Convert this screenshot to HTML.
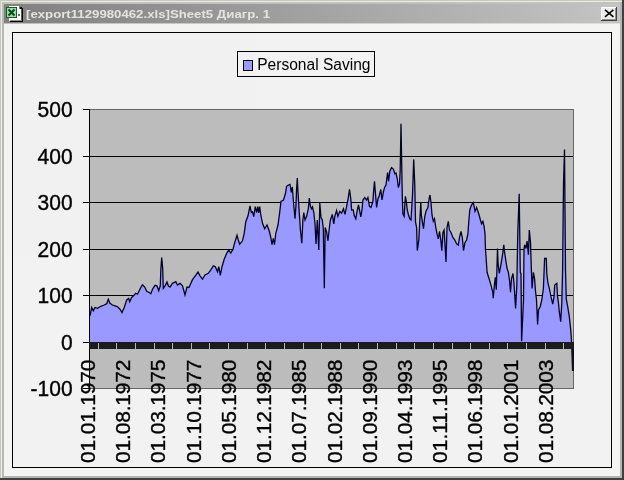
<!DOCTYPE html>
<html><head><meta charset="utf-8"><title>Chart</title>
<style>
html,body{margin:0;padding:0;background:#f0f0ee;}
body{width:624px;height:480px;overflow:hidden;}
svg{display:block;will-change:transform;opacity:0.999}
text{font-family:"Liberation Sans",Arial,sans-serif;}
</style></head><body>
<svg width="624" height="480" viewBox="0 0 624 480">
<defs>
<linearGradient id="tg" x1="0" y1="0" x2="1" y2="0"><stop offset="0" stop-color="#808080"/><stop offset="1" stop-color="#c4c4c4"/></linearGradient>
<clipPath id="pc"><rect x="90" y="109" width="484" height="280"/></clipPath>
</defs>
<g shape-rendering="crispEdges">
<!-- window frame -->
<rect x="0" y="0" width="624" height="480" fill="#f4f4f2"/>
<rect x="0" y="0" width="624" height="1" fill="#c8c8c2"/>
<rect x="0" y="0" width="1" height="480" fill="#c8c8c2"/>
<rect x="1" y="1" width="622" height="1" fill="#ecece6"/>
<rect x="1" y="1" width="1" height="478" fill="#ecece6"/>
<rect x="2" y="2" width="620" height="2" fill="#c2c2bc"/>
<rect x="2" y="2" width="2" height="476" fill="#babab4"/>
<rect x="620" y="2" width="2" height="476" fill="#b4b4b4"/>
<rect x="2" y="476" width="620" height="2" fill="#b4b4b4"/>
<rect x="622" y="0" width="2" height="480" fill="#404040"/>
<rect x="0" y="478" width="624" height="2" fill="#404040"/>
<!-- title bar -->
<rect x="4" y="4" width="616" height="19" fill="url(#tg)"/><rect x="4" y="23" width="616" height="1" fill="url(#tg)" opacity="0.45"/>
<!-- chart area -->
<rect x="12.5" y="32.5" width="599" height="435" fill="#f2f2f2" stroke="#000" stroke-width="1"/>
<!-- plot -->
<rect x="90" y="109" width="484" height="280" fill="#bcbcbc"/>

<rect x="83" y="109" width="490" height="1" fill="#000"/>
<rect x="83" y="156" width="490" height="1" fill="#000"/>
<rect x="83" y="202" width="490" height="1" fill="#000"/>
<rect x="83" y="249" width="490" height="1" fill="#000"/>
<rect x="83" y="295" width="490" height="1" fill="#000"/>
<rect x="83" y="342" width="490" height="1" fill="#000"/>
<rect x="83" y="388" width="490" height="1" fill="#000"/>
</g>
<g clip-path="url(#pc)"><path d="M90,342.5 L90.0,315.8 L91.7,307.5 L93.3,310.8 L95.0,307.5 L97.5,308.3 L100.8,306.3 L104.2,305.0 L106.7,303.7 L108.3,299.2 L110.0,303.3 L112.5,305.0 L115.0,305.8 L117.5,306.7 L120.0,309.2 L122.0,312.5 L124.2,307.5 L126.7,300.0 L128.7,298.3 L129.7,301.7 L131.7,297.5 L134.2,295.0 L135.8,293.3 L137.5,294.2 L139.2,290.8 L140.8,287.5 L142.5,284.7 L144.7,287.0 L146.7,291.3 L149.2,292.5 L150.8,293.7 L152.5,289.2 L155.0,285.3 L157.0,285.8 L158.7,290.8 L160.3,285.8 L160.8,270.0 L161.7,257.5 L162.7,268.3 L163.3,288.3 L165.0,285.8 L167.0,282.0 L168.3,285.8 L170.0,287.0 L172.5,283.3 L175.8,281.7 L177.5,285.0 L180.0,283.3 L182.5,285.8 L185.0,295.0 L187.0,287.0 L189.0,287.5 L192.5,279.7 L195.3,275.8 L198.0,272.0 L200.0,275.8 L202.5,279.2 L205.0,275.0 L208.3,273.3 L210.8,270.0 L213.3,265.8 L215.3,266.7 L217.5,271.7 L218.8,266.7 L220.3,275.3 L222.0,266.7 L224.2,259.2 L226.7,253.3 L228.7,250.0 L230.8,253.0 L233.0,249.2 L235.0,241.7 L237.0,235.3 L238.3,240.0 L239.7,244.2 L242.5,240.8 L244.2,233.3 L245.8,221.7 L248.0,215.8 L250.0,205.8 L251.3,212.5 L252.5,211.7 L253.7,216.7 L255.3,206.7 L256.7,212.5 L257.8,206.7 L258.7,213.0 L259.7,206.7 L260.8,215.0 L262.5,223.3 L264.7,228.7 L267.0,225.0 L269.2,230.8 L270.8,237.5 L272.0,244.7 L273.3,238.3 L274.5,244.7 L275.8,233.3 L278.0,225.0 L279.8,211.3 L281.0,201.3 L283.5,200.0 L285.4,193.8 L286.6,186.3 L288.5,185.0 L290.0,184.4 L291.3,192.5 L292.3,186.9 L293.5,202.5 L295.0,218.8 L296.0,205.0 L296.6,188.8 L297.3,178.1 L298.0,192.5 L299.1,210.0 L300.4,230.0 L301.8,243.3 L302.9,220.0 L303.8,212.5 L305.0,220.0 L306.6,216.3 L308.3,208.8 L309.3,198.1 L310.4,206.3 L311.6,208.8 L312.5,206.9 L313.8,212.5 L315.0,223.8 L316.0,244.0 L317.3,220.0 L318.8,250.0 L319.8,203.1 L321.0,217.5 L322.3,220.0 L323.3,228.8 L324.3,288.3 L325.2,227.5 L326.6,232.0 L328.0,240.8 L329.1,230.0 L330.4,220.0 L332.3,214.4 L333.8,223.8 L334.8,216.3 L336.6,210.6 L337.9,216.3 L339.8,211.3 L341.6,213.1 L343.5,208.8 L345.0,214.4 L346.6,206.3 L347.9,200.0 L349.5,189.4 L350.8,198.8 L351.6,210.0 L353.3,210.0 L354.1,215.0 L355.8,218.8 L357.3,210.0 L358.5,205.0 L359.5,210.0 L360.8,216.9 L362.0,210.0 L362.9,200.0 L364.8,197.5 L366.6,200.0 L367.9,197.5 L369.5,206.3 L371.0,207.5 L372.9,201.3 L373.8,188.8 L374.5,181.3 L375.4,192.5 L376.6,207.5 L377.9,198.8 L379.1,196.3 L380.8,189.4 L382.0,200.0 L383.5,191.3 L384.8,186.9 L386.0,185.0 L386.6,180.0 L387.6,172.5 L388.5,181.3 L389.8,171.3 L391.6,167.5 L393.5,169.4 L394.8,173.8 L396.0,173.1 L397.3,178.8 L398.3,187.5 L399.5,183.8 L400.2,170.0 L401.0,123.8 L401.8,170.0 L402.3,197.5 L402.9,213.8 L404.1,216.3 L405.4,196.3 L406.3,201.3 L407.3,210.0 L408.5,215.0 L409.8,218.8 L411.0,220.0 L412.5,195.0 L413.7,159.4 L414.8,185.0 L415.5,222.0 L416.6,227.5 L417.3,250.6 L418.8,240.0 L419.8,221.3 L420.8,202.5 L421.3,215.0 L422.3,221.3 L423.5,228.8 L424.8,216.3 L426.0,211.3 L427.9,207.5 L429.1,198.8 L430.0,195.0 L431.0,202.5 L432.0,215.0 L433.3,221.3 L434.5,218.8 L435.8,227.5 L437.0,233.8 L438.3,238.8 L439.5,231.3 L440.8,240.0 L441.8,250.6 L442.9,232.5 L444.1,230.0 L446.0,261.9 L447.0,227.5 L448.3,221.3 L449.5,230.0 L451.0,232.5 L452.9,237.5 L454.8,240.0 L456.6,243.8 L458.3,245.0 L459.5,237.5 L461.0,231.3 L462.3,237.5 L463.5,250.6 L465.0,242.5 L466.6,240.0 L467.9,233.8 L468.8,221.3 L469.8,210.0 L471.0,206.3 L472.3,203.8 L473.3,202.5 L474.1,206.3 L475.0,211.3 L476.6,207.5 L477.9,211.3 L479.1,215.0 L480.4,220.0 L481.6,223.8 L482.9,221.3 L484.1,226.3 L485.0,233.8 L485.5,250.0 L485.9,254.8 L487.1,272.3 L489.0,278.5 L490.9,284.8 L492.8,292.3 L493.2,298.2 L494.3,286.0 L495.3,277.3 L496.3,289.8 L496.9,269.8 L497.5,248.5 L498.1,263.5 L499.3,273.5 L500.9,264.8 L502.5,254.8 L503.8,244.8 L504.6,252.3 L505.9,261.0 L507.1,268.5 L508.4,272.3 L509.6,281.0 L510.5,292.3 L511.5,278.5 L513.0,273.5 L514.0,283.5 L515.6,308.5 L516.8,286.0 L517.8,232.0 L519.2,193.8 L520.3,272.3 L521.0,274.0 L521.6,341.3 L523.5,300.0 L524.0,249.8 L524.6,244.8 L525.9,248.5 L527.1,241.0 L528.4,254.8 L529.3,230.0 L530.5,242.3 L531.3,267.3 L532.1,288.5 L533.4,272.3 L534.6,278.5 L535.5,291.0 L536.5,300.0 L537.6,324.5 L538.5,310.0 L540.2,306.7 L541.8,300.0 L543.4,288.5 L544.0,273.5 L544.6,258.5 L546.3,258.5 L546.8,273.5 L548.0,283.5 L549.3,288.3 L551.0,296.7 L552.7,304.2 L554.0,297.0 L554.7,285.0 L556.8,283.3 L557.5,296.0 L558.5,303.3 L559.3,311.7 L560.7,321.6 L561.8,303.3 L562.6,270.0 L563.5,183.7 L564.5,149.5 L565.5,270.0 L566.3,299.2 L567.7,306.7 L569.3,316.7 L570.4,326.7 L571.2,336.0 L571.7,345.0 L572.6,371.0 L572.6,342.5 Z" fill="#9999ff" stroke="none"/><path d="M90.0,315.8 L91.7,307.5 L93.3,310.8 L95.0,307.5 L97.5,308.3 L100.8,306.3 L104.2,305.0 L106.7,303.7 L108.3,299.2 L110.0,303.3 L112.5,305.0 L115.0,305.8 L117.5,306.7 L120.0,309.2 L122.0,312.5 L124.2,307.5 L126.7,300.0 L128.7,298.3 L129.7,301.7 L131.7,297.5 L134.2,295.0 L135.8,293.3 L137.5,294.2 L139.2,290.8 L140.8,287.5 L142.5,284.7 L144.7,287.0 L146.7,291.3 L149.2,292.5 L150.8,293.7 L152.5,289.2 L155.0,285.3 L157.0,285.8 L158.7,290.8 L160.3,285.8 L160.8,270.0 L161.7,257.5 L162.7,268.3 L163.3,288.3 L165.0,285.8 L167.0,282.0 L168.3,285.8 L170.0,287.0 L172.5,283.3 L175.8,281.7 L177.5,285.0 L180.0,283.3 L182.5,285.8 L185.0,295.0 L187.0,287.0 L189.0,287.5 L192.5,279.7 L195.3,275.8 L198.0,272.0 L200.0,275.8 L202.5,279.2 L205.0,275.0 L208.3,273.3 L210.8,270.0 L213.3,265.8 L215.3,266.7 L217.5,271.7 L218.8,266.7 L220.3,275.3 L222.0,266.7 L224.2,259.2 L226.7,253.3 L228.7,250.0 L230.8,253.0 L233.0,249.2 L235.0,241.7 L237.0,235.3 L238.3,240.0 L239.7,244.2 L242.5,240.8 L244.2,233.3 L245.8,221.7 L248.0,215.8 L250.0,205.8 L251.3,212.5 L252.5,211.7 L253.7,216.7 L255.3,206.7 L256.7,212.5 L257.8,206.7 L258.7,213.0 L259.7,206.7 L260.8,215.0 L262.5,223.3 L264.7,228.7 L267.0,225.0 L269.2,230.8 L270.8,237.5 L272.0,244.7 L273.3,238.3 L274.5,244.7 L275.8,233.3 L278.0,225.0 L279.8,211.3 L281.0,201.3 L283.5,200.0 L285.4,193.8 L286.6,186.3 L288.5,185.0 L290.0,184.4 L291.3,192.5 L292.3,186.9 L293.5,202.5 L295.0,218.8 L296.0,205.0 L296.6,188.8 L297.3,178.1 L298.0,192.5 L299.1,210.0 L300.4,230.0 L301.8,243.3 L302.9,220.0 L303.8,212.5 L305.0,220.0 L306.6,216.3 L308.3,208.8 L309.3,198.1 L310.4,206.3 L311.6,208.8 L312.5,206.9 L313.8,212.5 L315.0,223.8 L316.0,244.0 L317.3,220.0 L318.8,250.0 L319.8,203.1 L321.0,217.5 L322.3,220.0 L323.3,228.8 L324.3,288.3 L325.2,227.5 L326.6,232.0 L328.0,240.8 L329.1,230.0 L330.4,220.0 L332.3,214.4 L333.8,223.8 L334.8,216.3 L336.6,210.6 L337.9,216.3 L339.8,211.3 L341.6,213.1 L343.5,208.8 L345.0,214.4 L346.6,206.3 L347.9,200.0 L349.5,189.4 L350.8,198.8 L351.6,210.0 L353.3,210.0 L354.1,215.0 L355.8,218.8 L357.3,210.0 L358.5,205.0 L359.5,210.0 L360.8,216.9 L362.0,210.0 L362.9,200.0 L364.8,197.5 L366.6,200.0 L367.9,197.5 L369.5,206.3 L371.0,207.5 L372.9,201.3 L373.8,188.8 L374.5,181.3 L375.4,192.5 L376.6,207.5 L377.9,198.8 L379.1,196.3 L380.8,189.4 L382.0,200.0 L383.5,191.3 L384.8,186.9 L386.0,185.0 L386.6,180.0 L387.6,172.5 L388.5,181.3 L389.8,171.3 L391.6,167.5 L393.5,169.4 L394.8,173.8 L396.0,173.1 L397.3,178.8 L398.3,187.5 L399.5,183.8 L400.2,170.0 L401.0,123.8 L401.8,170.0 L402.3,197.5 L402.9,213.8 L404.1,216.3 L405.4,196.3 L406.3,201.3 L407.3,210.0 L408.5,215.0 L409.8,218.8 L411.0,220.0 L412.5,195.0 L413.7,159.4 L414.8,185.0 L415.5,222.0 L416.6,227.5 L417.3,250.6 L418.8,240.0 L419.8,221.3 L420.8,202.5 L421.3,215.0 L422.3,221.3 L423.5,228.8 L424.8,216.3 L426.0,211.3 L427.9,207.5 L429.1,198.8 L430.0,195.0 L431.0,202.5 L432.0,215.0 L433.3,221.3 L434.5,218.8 L435.8,227.5 L437.0,233.8 L438.3,238.8 L439.5,231.3 L440.8,240.0 L441.8,250.6 L442.9,232.5 L444.1,230.0 L446.0,261.9 L447.0,227.5 L448.3,221.3 L449.5,230.0 L451.0,232.5 L452.9,237.5 L454.8,240.0 L456.6,243.8 L458.3,245.0 L459.5,237.5 L461.0,231.3 L462.3,237.5 L463.5,250.6 L465.0,242.5 L466.6,240.0 L467.9,233.8 L468.8,221.3 L469.8,210.0 L471.0,206.3 L472.3,203.8 L473.3,202.5 L474.1,206.3 L475.0,211.3 L476.6,207.5 L477.9,211.3 L479.1,215.0 L480.4,220.0 L481.6,223.8 L482.9,221.3 L484.1,226.3 L485.0,233.8 L485.5,250.0 L485.9,254.8 L487.1,272.3 L489.0,278.5 L490.9,284.8 L492.8,292.3 L493.2,298.2 L494.3,286.0 L495.3,277.3 L496.3,289.8 L496.9,269.8 L497.5,248.5 L498.1,263.5 L499.3,273.5 L500.9,264.8 L502.5,254.8 L503.8,244.8 L504.6,252.3 L505.9,261.0 L507.1,268.5 L508.4,272.3 L509.6,281.0 L510.5,292.3 L511.5,278.5 L513.0,273.5 L514.0,283.5 L515.6,308.5 L516.8,286.0 L517.8,232.0 L519.2,193.8 L520.3,272.3 L521.0,274.0 L521.6,341.3 L523.5,300.0 L524.0,249.8 L524.6,244.8 L525.9,248.5 L527.1,241.0 L528.4,254.8 L529.3,230.0 L530.5,242.3 L531.3,267.3 L532.1,288.5 L533.4,272.3 L534.6,278.5 L535.5,291.0 L536.5,300.0 L537.6,324.5 L538.5,310.0 L540.2,306.7 L541.8,300.0 L543.4,288.5 L544.0,273.5 L544.6,258.5 L546.3,258.5 L546.8,273.5 L548.0,283.5 L549.3,288.3 L551.0,296.7 L552.7,304.2 L554.0,297.0 L554.7,285.0 L556.8,283.3 L557.5,296.0 L558.5,303.3 L559.3,311.7 L560.7,321.6 L561.8,303.3 L562.6,270.0 L563.5,183.7 L564.5,149.5 L565.5,270.0 L566.3,299.2 L567.7,306.7 L569.3,316.7 L570.4,326.7 L571.2,336.0 L571.7,345.0 L572.6,371.0" fill="none" stroke="#040428" stroke-width="1.3" stroke-linejoin="miter"/></g>
<g shape-rendering="crispEdges">
<rect x="89.5" y="109.5" width="484" height="279" fill="none" stroke="#686868" stroke-width="1"/>
<rect x="89" y="109" width="1" height="280" fill="#000"/>
<rect x="89" y="342" width="485" height="7" fill="#1c1c1c"/>
<rect x="98" y="343" width="1" height="6" fill="#b8b8b8"/>
<rect x="116" y="343" width="1" height="6" fill="#b8b8b8"/>
<rect x="135" y="343" width="1" height="6" fill="#b8b8b8"/>
<rect x="154" y="343" width="1" height="6" fill="#b8b8b8"/>
<rect x="172" y="343" width="1" height="6" fill="#b8b8b8"/>
<rect x="191" y="343" width="1" height="6" fill="#b8b8b8"/>
<rect x="209" y="343" width="1" height="6" fill="#b8b8b8"/>
<rect x="228" y="343" width="1" height="6" fill="#b8b8b8"/>
<rect x="247" y="343" width="1" height="6" fill="#b8b8b8"/>
<rect x="265" y="343" width="1" height="6" fill="#b8b8b8"/>
<rect x="284" y="343" width="1" height="6" fill="#b8b8b8"/>
<rect x="303" y="343" width="1" height="6" fill="#b8b8b8"/>
<rect x="321" y="343" width="1" height="6" fill="#b8b8b8"/>
<rect x="340" y="343" width="1" height="6" fill="#b8b8b8"/>
<rect x="358" y="343" width="1" height="6" fill="#b8b8b8"/>
<rect x="377" y="343" width="1" height="6" fill="#b8b8b8"/>
<rect x="396" y="343" width="1" height="6" fill="#b8b8b8"/>
<rect x="414" y="343" width="1" height="6" fill="#b8b8b8"/>
<rect x="433" y="343" width="1" height="6" fill="#b8b8b8"/>
<rect x="452" y="343" width="1" height="6" fill="#b8b8b8"/>
<rect x="470" y="343" width="1" height="6" fill="#b8b8b8"/>
<rect x="489" y="343" width="1" height="6" fill="#b8b8b8"/>
<rect x="507" y="343" width="1" height="6" fill="#b8b8b8"/>
<rect x="526" y="343" width="1" height="6" fill="#b8b8b8"/>
<rect x="545" y="343" width="1" height="6" fill="#b8b8b8"/>
<rect x="563" y="343" width="1" height="6" fill="#b8b8b8"/>
<rect x="572" y="349" width="2" height="22" fill="#101018"/>
</g>
<text transform="translate(72.6,116.9) scale(1,1.07)" font-size="21" text-anchor="end" fill="#000" stroke="#000" stroke-width="0.35">500</text>
<text transform="translate(72.6,163.9) scale(1,1.07)" font-size="21" text-anchor="end" fill="#000" stroke="#000" stroke-width="0.35">400</text>
<text transform="translate(72.6,209.9) scale(1,1.07)" font-size="21" text-anchor="end" fill="#000" stroke="#000" stroke-width="0.35">300</text>
<text transform="translate(72.6,256.9) scale(1,1.07)" font-size="21" text-anchor="end" fill="#000" stroke="#000" stroke-width="0.35">200</text>
<text transform="translate(72.6,302.9) scale(1,1.07)" font-size="21" text-anchor="end" fill="#000" stroke="#000" stroke-width="0.35">100</text>
<text transform="translate(72.6,349.9) scale(1,1.07)" font-size="21" text-anchor="end" fill="#000" stroke="#000" stroke-width="0.35">0</text>
<text transform="translate(72.6,395.9) scale(1,1.07)" font-size="21" text-anchor="end" fill="#000" stroke="#000" stroke-width="0.35">-100</text>
<text transform="translate(95.00,462.9) rotate(-90)" font-size="21" fill="#000" stroke="#000" stroke-width="0.35" textLength="103.4" lengthAdjust="spacing">01.01.1970</text>
<text transform="translate(130.22,462.9) rotate(-90)" font-size="21" fill="#000" stroke="#000" stroke-width="0.35" textLength="103.4" lengthAdjust="spacing">01.08.1972</text>
<text transform="translate(165.44,462.9) rotate(-90)" font-size="21" fill="#000" stroke="#000" stroke-width="0.35" textLength="103.4" lengthAdjust="spacing">01.03.1975</text>
<text transform="translate(200.66,462.9) rotate(-90)" font-size="21" fill="#000" stroke="#000" stroke-width="0.35" textLength="103.4" lengthAdjust="spacing">01.10.1977</text>
<text transform="translate(235.88,462.9) rotate(-90)" font-size="21" fill="#000" stroke="#000" stroke-width="0.35" textLength="103.4" lengthAdjust="spacing">01.05.1980</text>
<text transform="translate(271.10,462.9) rotate(-90)" font-size="21" fill="#000" stroke="#000" stroke-width="0.35" textLength="103.4" lengthAdjust="spacing">01.12.1982</text>
<text transform="translate(306.32,462.9) rotate(-90)" font-size="21" fill="#000" stroke="#000" stroke-width="0.35" textLength="103.4" lengthAdjust="spacing">01.07.1985</text>
<text transform="translate(341.54,462.9) rotate(-90)" font-size="21" fill="#000" stroke="#000" stroke-width="0.35" textLength="103.4" lengthAdjust="spacing">01.02.1988</text>
<text transform="translate(376.76,462.9) rotate(-90)" font-size="21" fill="#000" stroke="#000" stroke-width="0.35" textLength="103.4" lengthAdjust="spacing">01.09.1990</text>
<text transform="translate(411.98,462.9) rotate(-90)" font-size="21" fill="#000" stroke="#000" stroke-width="0.35" textLength="103.4" lengthAdjust="spacing">01.04.1993</text>
<text transform="translate(447.20,462.9) rotate(-90)" font-size="21" fill="#000" stroke="#000" stroke-width="0.35" textLength="103.4" lengthAdjust="spacing">01.11.1995</text>
<text transform="translate(482.42,462.9) rotate(-90)" font-size="21" fill="#000" stroke="#000" stroke-width="0.35" textLength="103.4" lengthAdjust="spacing">01.06.1998</text>
<text transform="translate(517.64,462.9) rotate(-90)" font-size="21" fill="#000" stroke="#000" stroke-width="0.35" textLength="103.4" lengthAdjust="spacing">01.01.2001</text>
<text transform="translate(552.86,462.9) rotate(-90)" font-size="21" fill="#000" stroke="#000" stroke-width="0.35" textLength="103.4" lengthAdjust="spacing">01.08.2003</text>
<rect x="237.5" y="51.5" width="137" height="25" fill="#f2f2f2" stroke="#000" stroke-width="1" shape-rendering="crispEdges"/>
<rect x="243.5" y="60.5" width="9" height="10" fill="#9999ff" stroke="#000" stroke-width="1" shape-rendering="crispEdges"/>
<text x="257.2" y="70" font-size="16" fill="#000" textLength="113.3" lengthAdjust="spacingAndGlyphs">Personal Saving</text>
<text x="26" y="18" font-size="11" font-weight="bold" fill="#e6e4de" textLength="244" lengthAdjust="spacingAndGlyphs">[export1129980462.xls]Sheet5 Диагр. 1</text>
<g shape-rendering="crispEdges">
<rect x="9" y="6" width="13" height="15" fill="#fff"/>
<rect x="22" y="8" width="1" height="14" fill="#000"/>
<rect x="21" y="9" width="1" height="12" fill="#555"/>
<rect x="10" y="21" width="13" height="1" fill="#000"/>
<rect x="10" y="20" width="12" height="1" fill="#888"/>
<rect x="19" y="6" width="3" height="3" fill="#808080"/>
<rect x="20" y="7" width="2" height="2" fill="#111"/>
<rect x="6" y="7" width="11" height="11" fill="#1c5c2c"/>
<rect x="7" y="8" width="9" height="9" fill="#98dca2"/>
<rect x="18" y="14" width="2" height="2" fill="#667066"/>
</g>
<path d="M8.5,9.5 L14.5,15.5 M14.5,9.5 L8.5,15.5" stroke="#0a4a1a" stroke-width="2" fill="none"/>

<g shape-rendering="crispEdges">
<rect x="601" y="7" width="16" height="14" fill="#ecece8"/>
<rect x="601" y="7" width="15" height="1" fill="#fff"/>
<rect x="601" y="7" width="1" height="13" fill="#fff"/>
<rect x="616" y="7" width="1" height="14" fill="#404040"/>
<rect x="601" y="20" width="16" height="1" fill="#404040"/>
<rect x="615" y="8" width="1" height="12" fill="#909090"/>
<rect x="602" y="19" width="14" height="1" fill="#909090"/>
</g>
<path d="M605,9.8 L613.4,16.8 M613.4,9.8 L605,16.8" stroke="#000" stroke-width="1.6" fill="none"/>

</svg></body></html>
